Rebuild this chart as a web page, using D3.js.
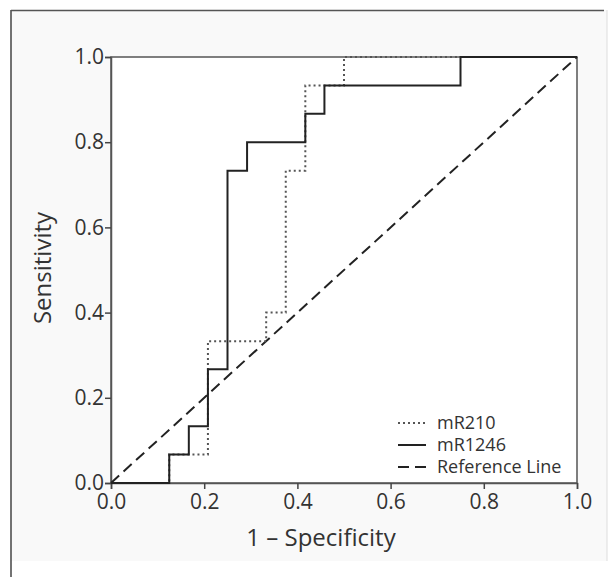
<!DOCTYPE html>
<html>
<head>
<meta charset="utf-8">
<script src="https://cdn.jsdelivr.net/npm/d3@7"></script>
<style>
  body { margin: 0; background: #fff; }
  svg { display: block; }
  text { font-family: "Open Sans", Lato, sans-serif; fill: #333; }
</style>
</head>
<body>
<div id="chart"></div>
<script>
// ROC step curves (1 - specificity vs sensitivity)
var fprR210  = [0, 0.125, 0.125, 0.208, 0.208, 0.333, 0.333, 0.375, 0.375, 0.417, 0.417, 0.5, 0.5, 1.0];
var tprR210  = [0, 0, 0.067, 0.067, 0.333, 0.333, 0.4, 0.4, 0.733, 0.733, 0.933, 0.933, 1.0, 1.0];
var fprR1246 = [0, 0.125, 0.125, 0.167, 0.167, 0.208, 0.208, 0.25, 0.25, 0.292, 0.292, 0.417, 0.417, 0.458, 0.458, 0.75, 0.75, 1.0];
var tprR1246 = [0, 0, 0.067, 0.067, 0.133, 0.133, 0.267, 0.267, 0.733, 0.733, 0.8, 0.8, 0.867, 0.867, 0.933, 0.933, 1.0, 1.0];
var refLine  = [0, 1];
var ticks    = [0, 0.2, 0.4, 0.6, 0.8, 1.0];
var legendNames = ["mR210", "mR1246", "Reference Line"];

var width = 615, height = 577;
var margin = { left: 111, top: 57, right: 38, bottom: 94 };

var svg = d3.select("#chart").append("svg")
  .attr("width", width)
  .attr("height", height);

// outer panel
svg.append("rect")
  .attr("x", 11).attr("y", 10)
  .attr("width", 596).attr("height", 551)
  .attr("fill", "#f9f9f9");
svg.append("line").attr("x1", 11).attr("x2", 11).attr("y1", 10).attr("y2", 577)
  .attr("stroke", "#444").attr("stroke-width", 1.5);
svg.append("line").attr("x1", 11).attr("x2", 604).attr("y1", 10.5).attr("y2", 10.5)
  .attr("stroke", "#555").attr("stroke-width", 1.5);
svg.append("line").attr("x1", 607).attr("x2", 607).attr("y1", 10).attr("y2", 561)
  .attr("stroke", "#ddd").attr("stroke-width", 1);

var x = d3.scaleLinear().domain([0, 1]).range([margin.left, width - margin.right]);
var y = d3.scaleLinear().domain([0, 1]).range([height - margin.bottom, margin.top]);

// plot area
svg.append("rect")
  .attr("x", x(0)).attr("y", y(1))
  .attr("width", x(1) - x(0)).attr("height", y(0) - y(1))
  .attr("fill", "#fff")
  .attr("stroke", "#555").attr("stroke-width", 1.5);

var fmt = d3.format(".1f");

var xAxis = svg.append("g")
  .attr("transform", "translate(0," + y(0) + ")")
  .call(d3.axisBottom(x).tickValues(ticks).tickFormat(fmt).tickSize(6).tickPadding(5));
var yAxis = svg.append("g")
  .attr("transform", "translate(" + x(0) + ",0)")
  .call(d3.axisLeft(y).tickValues(ticks).tickFormat(fmt).tickSize(6).tickPadding(1));

[xAxis, yAxis].forEach(function (g) {
  g.select(".domain").attr("stroke", "#555").attr("stroke-width", 1.5);
  g.selectAll(".tick line").attr("stroke", "#444").attr("stroke-width", 1.5);
  g.selectAll(".tick text")
    .attr("fill", "#444")
    .style("font-family", "'Open Sans', Lato, sans-serif")
    .style("font-size", "21px");
});

// axis titles
svg.append("text")
  .attr("x", 321)
  .attr("y", 546)
  .attr("text-anchor", "middle")
  .style("font-size", "24px")
  .text("1 \u2013 Specificity");

svg.append("text")
  .attr("transform", "translate(51," + 268 + ") rotate(-90)")
  .attr("text-anchor", "middle")
  .style("font-size", "24px")
  .text("Sensitivity");

var line = d3.line()
  .x(function (d) { return x(d[0]); })
  .y(function (d) { return y(d[1]); });

// reference diagonal
svg.append("path")
  .datum(refLine.map(function (v) { return [v, v]; }))
  .attr("d", line)
  .attr("fill", "none")
  .attr("stroke", "#222")
  .attr("stroke-width", 2)
  .attr("stroke-dasharray", "11,6");

// mR210 dotted
svg.append("path")
  .datum(d3.zip(fprR210, tprR210))
  .attr("d", line)
  .attr("fill", "none")
  .attr("stroke", "#555")
  .attr("stroke-width", 2)
  .attr("stroke-dasharray", "2,3");

// mR1246 solid
svg.append("path")
  .datum(d3.zip(fprR1246, tprR1246))
  .attr("d", line)
  .attr("fill", "none")
  .attr("stroke", "#222")
  .attr("stroke-width", 2);

// legend
var legendStyles = [
  { dash: "2,3", color: "#555" },
  { dash: null, color: "#222" },
  { dash: "11,6", color: "#222" }
];
var legend = svg.append("g");
legendNames.forEach(function (name, i) {
  var ly = 423 + i * 22;
  legend.append("line")
    .attr("x1", 398).attr("x2", 426)
    .attr("y1", ly).attr("y2", ly)
    .attr("stroke", legendStyles[i].color)
    .attr("stroke-width", 2)
    .attr("stroke-dasharray", legendStyles[i].dash);
  legend.append("text")
    .attr("x", 437)
    .attr("y", ly + 6)
    .style("font-size", "18px")
    .text(name);
});
</script>
</body>
</html>
